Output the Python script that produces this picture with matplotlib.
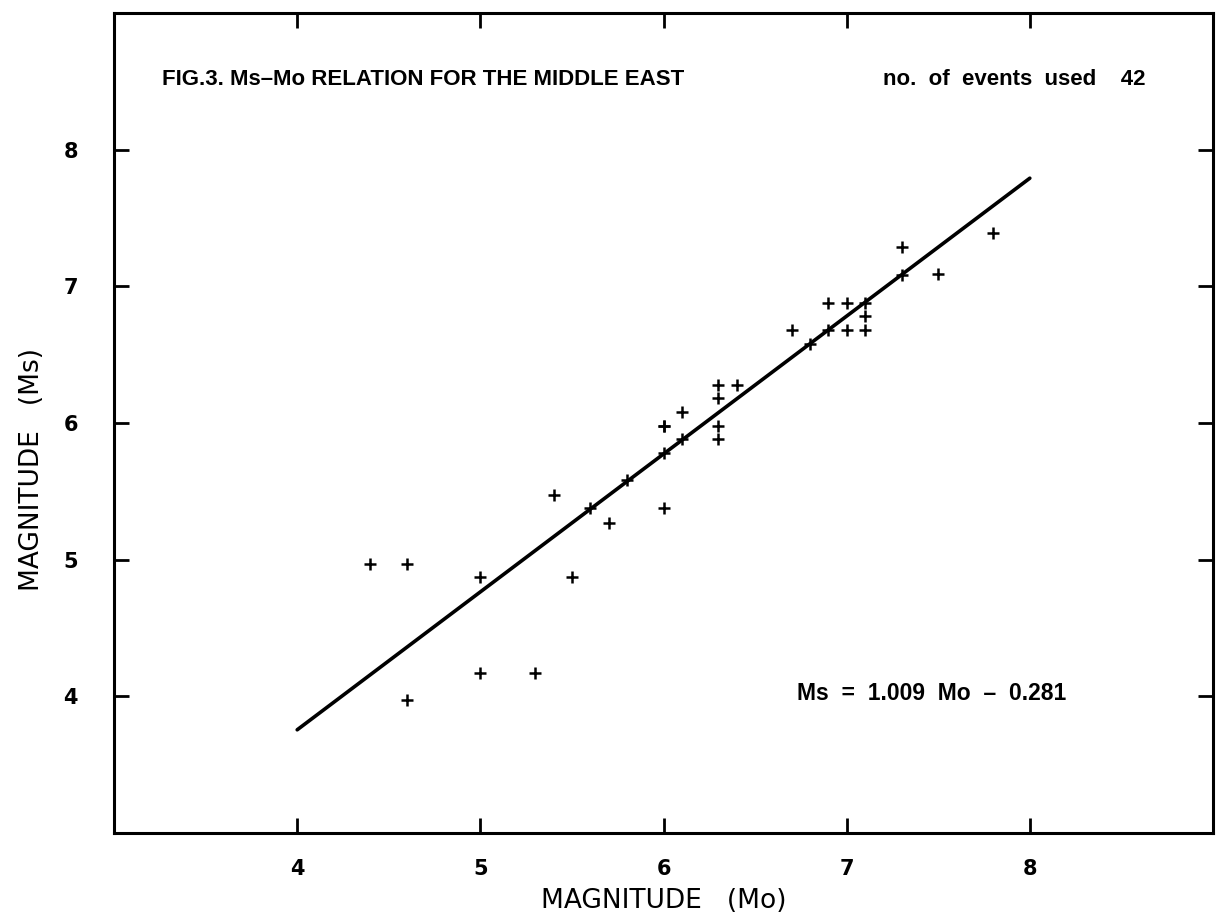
import matplotlib
matplotlib.use("Agg")
import matplotlib.pyplot as plt
import numpy as np

# events
mo = [4.4, 4.6, 4.6, 5.0, 5.0, 5.3, 5.4, 5.5, 5.6, 5.7, 5.8,
      6.0, 6.0, 6.0, 6.0, 6.1, 6.1, 6.3, 6.3, 6.3, 6.3, 6.4,
      6.7, 6.8, 6.9, 6.9, 7.0, 7.0, 7.1, 7.1, 7.1, 7.3, 7.3, 7.5, 7.8]
ms = [4.97, 4.97, 3.97, 4.87, 4.17, 4.17, 5.47, 4.87, 5.38, 5.27, 5.58,
      5.38, 5.78, 5.98, 5.98, 5.88, 6.08, 5.88, 5.98, 6.18, 6.28, 6.28,
      6.68, 6.58, 6.68, 6.88, 6.68, 6.88, 6.68, 6.78, 6.88, 7.08, 7.29, 7.09, 7.39]

slope = 1.009
intercept = -0.281
fit_x = [4.0, 8.0]
ticks = [4, 5, 6, 7, 8]

fig = plt.figure(figsize=(12.17, 9.19), dpi=100)
ax = fig.add_axes([0.0937, 0.0936, 0.903, 0.8923])

fx = np.array(fit_x)
ax.plot(fx, slope * fx + intercept, color="black", lw=2.6, solid_capstyle="round")
ax.plot(mo, ms, "+", color="black", ms=8, mew=1.8)

ax.set_xlim(3, 9)
ax.set_ylim(3, 9)
ax.set_xticks(ticks)
ax.set_yticks(ticks)
ax.tick_params(direction="in", length=11, width=2, top=True, right=True,
               labelsize=15)
ax.tick_params(axis="x", pad=19)
ax.tick_params(axis="y", pad=26)
for lab in ax.get_xticklabels() + ax.get_yticklabels():
    lab.set_fontweight("bold")
for s in ax.spines.values():
    s.set_linewidth(2.2)

ax.text(3.26, 8.51, "FIG.3. Ms\u2013Mo RELATION FOR THE MIDDLE EAST",
        fontsize=16, fontweight="bold", family="Liberation Sans", va="center")
ax.text(8.63, 8.51, "no.  of  events  used    42",
        fontsize=16, fontweight="bold", family="Liberation Sans", va="center", ha="right")
ax.text(6.73, 4.02, "Ms  =  1.009  Mo  \u2013  0.281",
        fontsize=16.5, fontweight="bold", family="Liberation Sans", va="center")

fig.text(0.545, 0.02, "MAGNITUDE   (Mo)", fontsize=19, ha="center", va="center")
fig.text(0.026, 0.489, "MAGNITUDE   (Ms)", fontsize=19, ha="center", va="center",
         rotation=90)

fig.savefig("out.png", dpi=100)
